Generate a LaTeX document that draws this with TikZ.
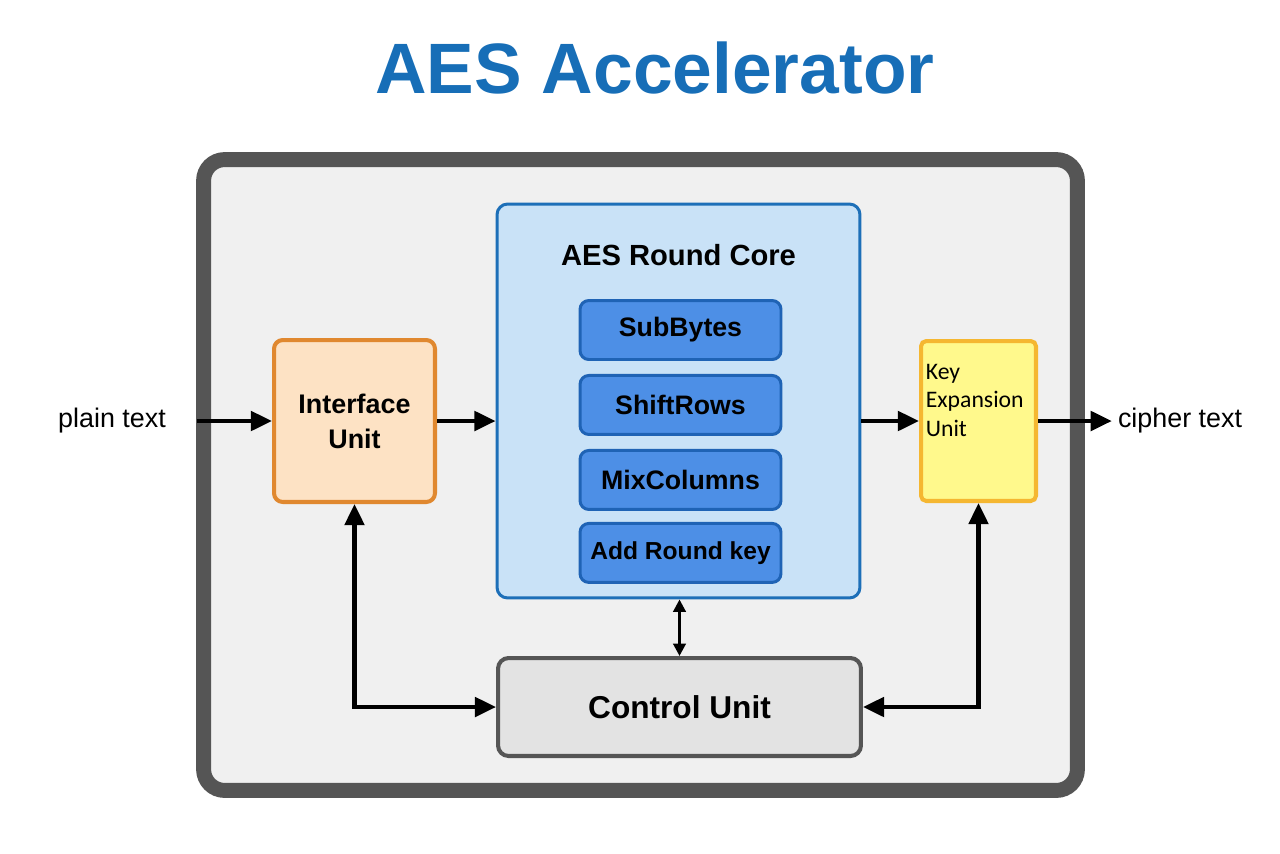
\documentclass[tikz,border=0pt]{standalone}
\usepackage{fontspec}
\setmainfont{Liberation Sans}
\newfontfamily\keyfont{Carlito}
\usetikzlibrary{positioning,arrows.meta}
\definecolor{titleblue}{RGB}{23,110,183}
\definecolor{framegray}{RGB}{85,85,85}
\definecolor{framefill}{RGB}{240,240,240}
\definecolor{ifaceline}{RGB}{224,136,47}
\definecolor{ifacefill}{RGB}{253,226,196}
\definecolor{coreline}{RGB}{29,111,184}
\definecolor{corefill}{RGB}{201,226,247}
\definecolor{stepline}{RGB}{31,99,181}
\definecolor{stepfill}{RGB}{77,143,230}
\definecolor{keyline}{RGB}{245,183,49}
\definecolor{keyfill}{RGB}{255,249,140}
\definecolor{ctrlfill}{RGB}{227,227,227}

\begin{document}
\begin{tikzpicture}[x=0.02cm,y=0.02cm]
% Define styles
\tikzstyle{frame} = [rectangle, rounded corners=12pt, minimum width=17.48cm, minimum height=12.62cm, inner sep=0pt, draw=framegray, line width=8.5pt, fill=framefill]
\tikzstyle{iface} = [rectangle, rounded corners=5pt, minimum width=3.22cm, minimum height=3.24cm, text centered, align=center, draw=ifaceline, line width=2.3pt, fill=ifacefill, font=\fontsize{15.3pt}{19.8pt}\selectfont\bfseries]
\tikzstyle{core} = [rectangle, rounded corners=6pt, minimum width=7.26cm, minimum height=7.88cm, draw=coreline, line width=1.7pt, fill=corefill]
\tikzstyle{stage} = [rectangle, rounded corners=5pt, minimum width=4.02cm, minimum height=1.18cm, inner xsep=2pt, text centered, draw=stepline, line width=1.7pt, fill=stepfill, font=\fontsize{15.2pt}{18pt}\selectfont\bfseries]
\tikzstyle{keyunit} = [rectangle, rounded corners=3pt, minimum width=2.3cm, minimum height=3.2cm, draw=keyline, line width=2.3pt, fill=keyfill]
\tikzstyle{ctrl} = [rectangle, rounded corners=6pt, minimum width=7.26cm, minimum height=1.96cm, text centered, draw=framegray, line width=2.3pt, fill=ctrlfill, font=\fontsize{18pt}{22pt}\selectfont\bfseries]
\tikzstyle{label} = [font=\fontsize{15.3pt}{18pt}\selectfont]
\tikzstyle{arrow} = [line width=2.3pt, -{Triangle[length=12pt,width=11pt]}]
\tikzstyle{link} = [line width=2.3pt, {Triangle[length=12pt,width=11pt]}-{Triangle[length=12pt,width=11pt]}]
\tikzstyle{thinlink} = [line width=1.6pt, {Triangle[length=7pt,width=7pt]}-{Triangle[length=7pt,width=7pt]}]

\useasboundingbox (0,0) rectangle (1280,-853);

% Draw nodes
\node (title) at (655,-68) [text=titleblue, font=\fontsize{40.6pt}{48pt}\selectfont\bfseries] {AES Accelerator};
\node (accel) at (640.5,-475) [frame] {};
\node (iface) at (354.5,-421) [iface] {Interface\\Unit};
\node (core) at (678.5,-401) [core] {};
\node (coretitle) at (678.5,-255) [font=\fontsize{16.6pt}{20pt}\selectfont\bfseries] {AES Round Core};
\node (sub) at (680.5,-330) [stage] {SubBytes};
\node (shift) [stage, below=0.26cm of sub] {ShiftRows};
\node (mix) [stage, below=0.26cm of shift] {MixColumns};
\node (addkey) [stage, below=0.22cm of mix, font=\fontsize{14pt}{17pt}\selectfont\bfseries] {Add Round key};
\node (key) at (978.5,-421) [keyunit] {};
\node (keytext) at (922,-360) [anchor=north west, align=left, inner sep=2pt, font=\keyfont\fontsize{13.5pt}{16.4pt}\selectfont] {Key\\Expansion\\Unit};
\node (ctrl) at (679.5,-707) [ctrl] {Control Unit};
\node (plain) at (112,-421) [label] {plain text};
\node (cipher) at (1180,-421) [label] {cipher text};

% Draw arrows
\draw [arrow, shorten <=14pt] (plain) -- (iface);
\draw [arrow] (iface.east) -- (iface.east -| core.west);
\draw [arrow] (key.west -| core.east) -- (key.west);
\draw [arrow] (key) -- (cipher);
\draw [link] (iface.south) |- (ctrl.west);
\draw [link] (key.south) |- (ctrl.east);
\draw [thinlink] (core.south -| ctrl.north) -- (ctrl.north);
\end{tikzpicture}
\end{document}
